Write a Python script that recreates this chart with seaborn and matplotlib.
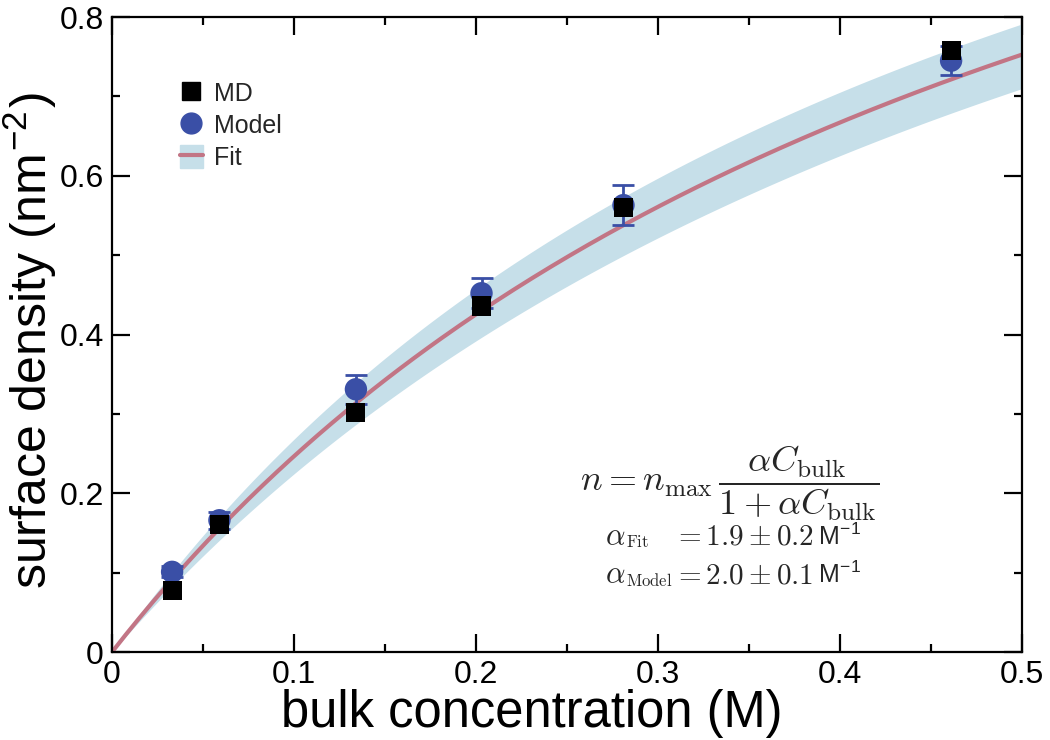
import numpy as np
import pandas as pd
import seaborn as sns
from matplotlib import pyplot as plt
from matplotlib.patches import Patch
from matplotlib.lines import Line2D
from matplotlib.ticker import MultipleLocator

# data
conc = [0.033, 0.059, 0.134, 0.203, 0.281, 0.461]
md_density = [0.078, 0.161, 0.302, 0.436, 0.560, 0.758]
model_density = [0.101, 0.166, 0.331, 0.452, 0.563, 0.745]
model_err = [0.007, 0.011, 0.018, 0.019, 0.025, 0.018]

# Langmuir fit parameters (alpha from the annotation)
n_max = 1.545
alpha_fit = 1.9
alpha_err = 0.2

xticks = [0, 0.1, 0.2, 0.3, 0.4, 0.5]
xtick_labels = ["0", "0.1", "0.2", "0.3", "0.4", "0.5"]
yticks = [0, 0.2, 0.4, 0.6, 0.8]
ytick_labels = ["0", "0.2", "0.4", "0.6", "0.8"]

sns.set_theme(style="ticks")
plt.rcParams['font.family'] = ['Liberation Sans', 'DejaVu Sans']
plt.rcParams['mathtext.fontset'] = 'cm'

fig = plt.figure(figsize=(10.5, 7.4), dpi=100)
ax = fig.add_axes([0.1067, 0.1189, 0.8667, 0.8581])

line_col = "#c27585"
band_col = "#c6dfe9"
blue = "#3a4fa6"

c = np.linspace(0, 0.5, 200)
fit = pd.DataFrame({
    "c": c,
    "n": n_max * alpha_fit * c / (1 + alpha_fit * c),
    "lo": n_max * (alpha_fit - alpha_err) * c / (1 + (alpha_fit - alpha_err) * c),
    "hi": n_max * (alpha_fit + alpha_err) * c / (1 + (alpha_fit + alpha_err) * c),
})
ax.fill_between(fit["c"], fit["lo"], fit["hi"], color=band_col, lw=0, zorder=1)
sns.lineplot(data=fit, x="c", y="n", color=line_col, lw=3, ax=ax, zorder=2)

ax.errorbar(conc, model_density, yerr=model_err, fmt="none", ecolor=blue,
            elinewidth=2, capsize=8, capthick=2, zorder=3)
sns.scatterplot(x=conc, y=model_density, marker="o", s=260, color=blue,
                edgecolor="none", ax=ax, zorder=4)
sns.scatterplot(x=conc, y=md_density, marker="s", s=190, color="black",
                edgecolor="none", ax=ax, zorder=5)

ax.set_xlim(0, 0.5)
ax.set_ylim(0, 0.8)
ax.set_xticks(xticks)
ax.set_xticklabels(xtick_labels)
ax.set_yticks(yticks)
ax.set_yticklabels(ytick_labels)
ax.xaxis.set_minor_locator(MultipleLocator(0.05))
ax.yaxis.set_minor_locator(MultipleLocator(0.1))
ax.tick_params(which="both", direction="in", top=True, right=True, width=1.6,
               labelsize=23, colors="black", pad=6)
ax.tick_params(which="major", length=13)
ax.tick_params(which="minor", length=6)
for sp in ax.spines.values():
    sp.set_linewidth(1.6)
    sp.set_color("black")

ax.set_xlabel("bulk concentration (M)", fontsize=36.5, color="black")
ax.xaxis.set_label_coords(0.4615, -0.058)
ax.set_ylabel("surface density (nm$^{\\mathregular{-2}}$)", fontsize=36,
              color="black")
ax.yaxis.set_label_coords(-0.058, 0.49)

handles = [
    Line2D([], [], marker="s", color="black", ls="none", markersize=13),
    Line2D([], [], marker="o", color=blue, ls="none", markersize=15),
    (Patch(color=band_col), Line2D([], [], color=line_col, lw=3)),
]
ax.legend(handles, ["MD", "Model", "Fit"], loc="upper left",
          bbox_to_anchor=(0.05, 0.935), frameon=False, fontsize=18,
          handlelength=0.9, handleheight=1.0, handletextpad=0.45,
          labelspacing=0.3)

tx = ax.transData
ax.text(0.257, 0.213, r"$n = n_{\rm max}\,\dfrac{\alpha C_{\rm bulk}}{1+\alpha C_{\rm bulk}}$",
        fontsize=26, transform=tx, va="center")
ax.text(0.271, 0.145, r"$\alpha$", fontsize=22, transform=tx, va="center")
ax.text(0.2825, 0.138, r"$\rm Fit$", fontsize=12, transform=tx, va="center")
ax.text(0.308, 0.145, r"$=1.9 \pm 0.2$", fontsize=21, transform=tx, va="center")
ax.text(0.388, 0.145, "M$^{\\mathregular{-1}}$", fontsize=18, transform=tx, va="center")
ax.text(0.271, 0.097, r"$\alpha$", fontsize=22, transform=tx, va="center")
ax.text(0.2825, 0.090, r"$\rm Model$", fontsize=12, transform=tx, va="center")
ax.text(0.308, 0.097, r"$=2.0 \pm 0.1$", fontsize=21, transform=tx, va="center")
ax.text(0.388, 0.097, "M$^{\\mathregular{-1}}$", fontsize=18, transform=tx, va="center")

fig.savefig("out.png", dpi=100)
